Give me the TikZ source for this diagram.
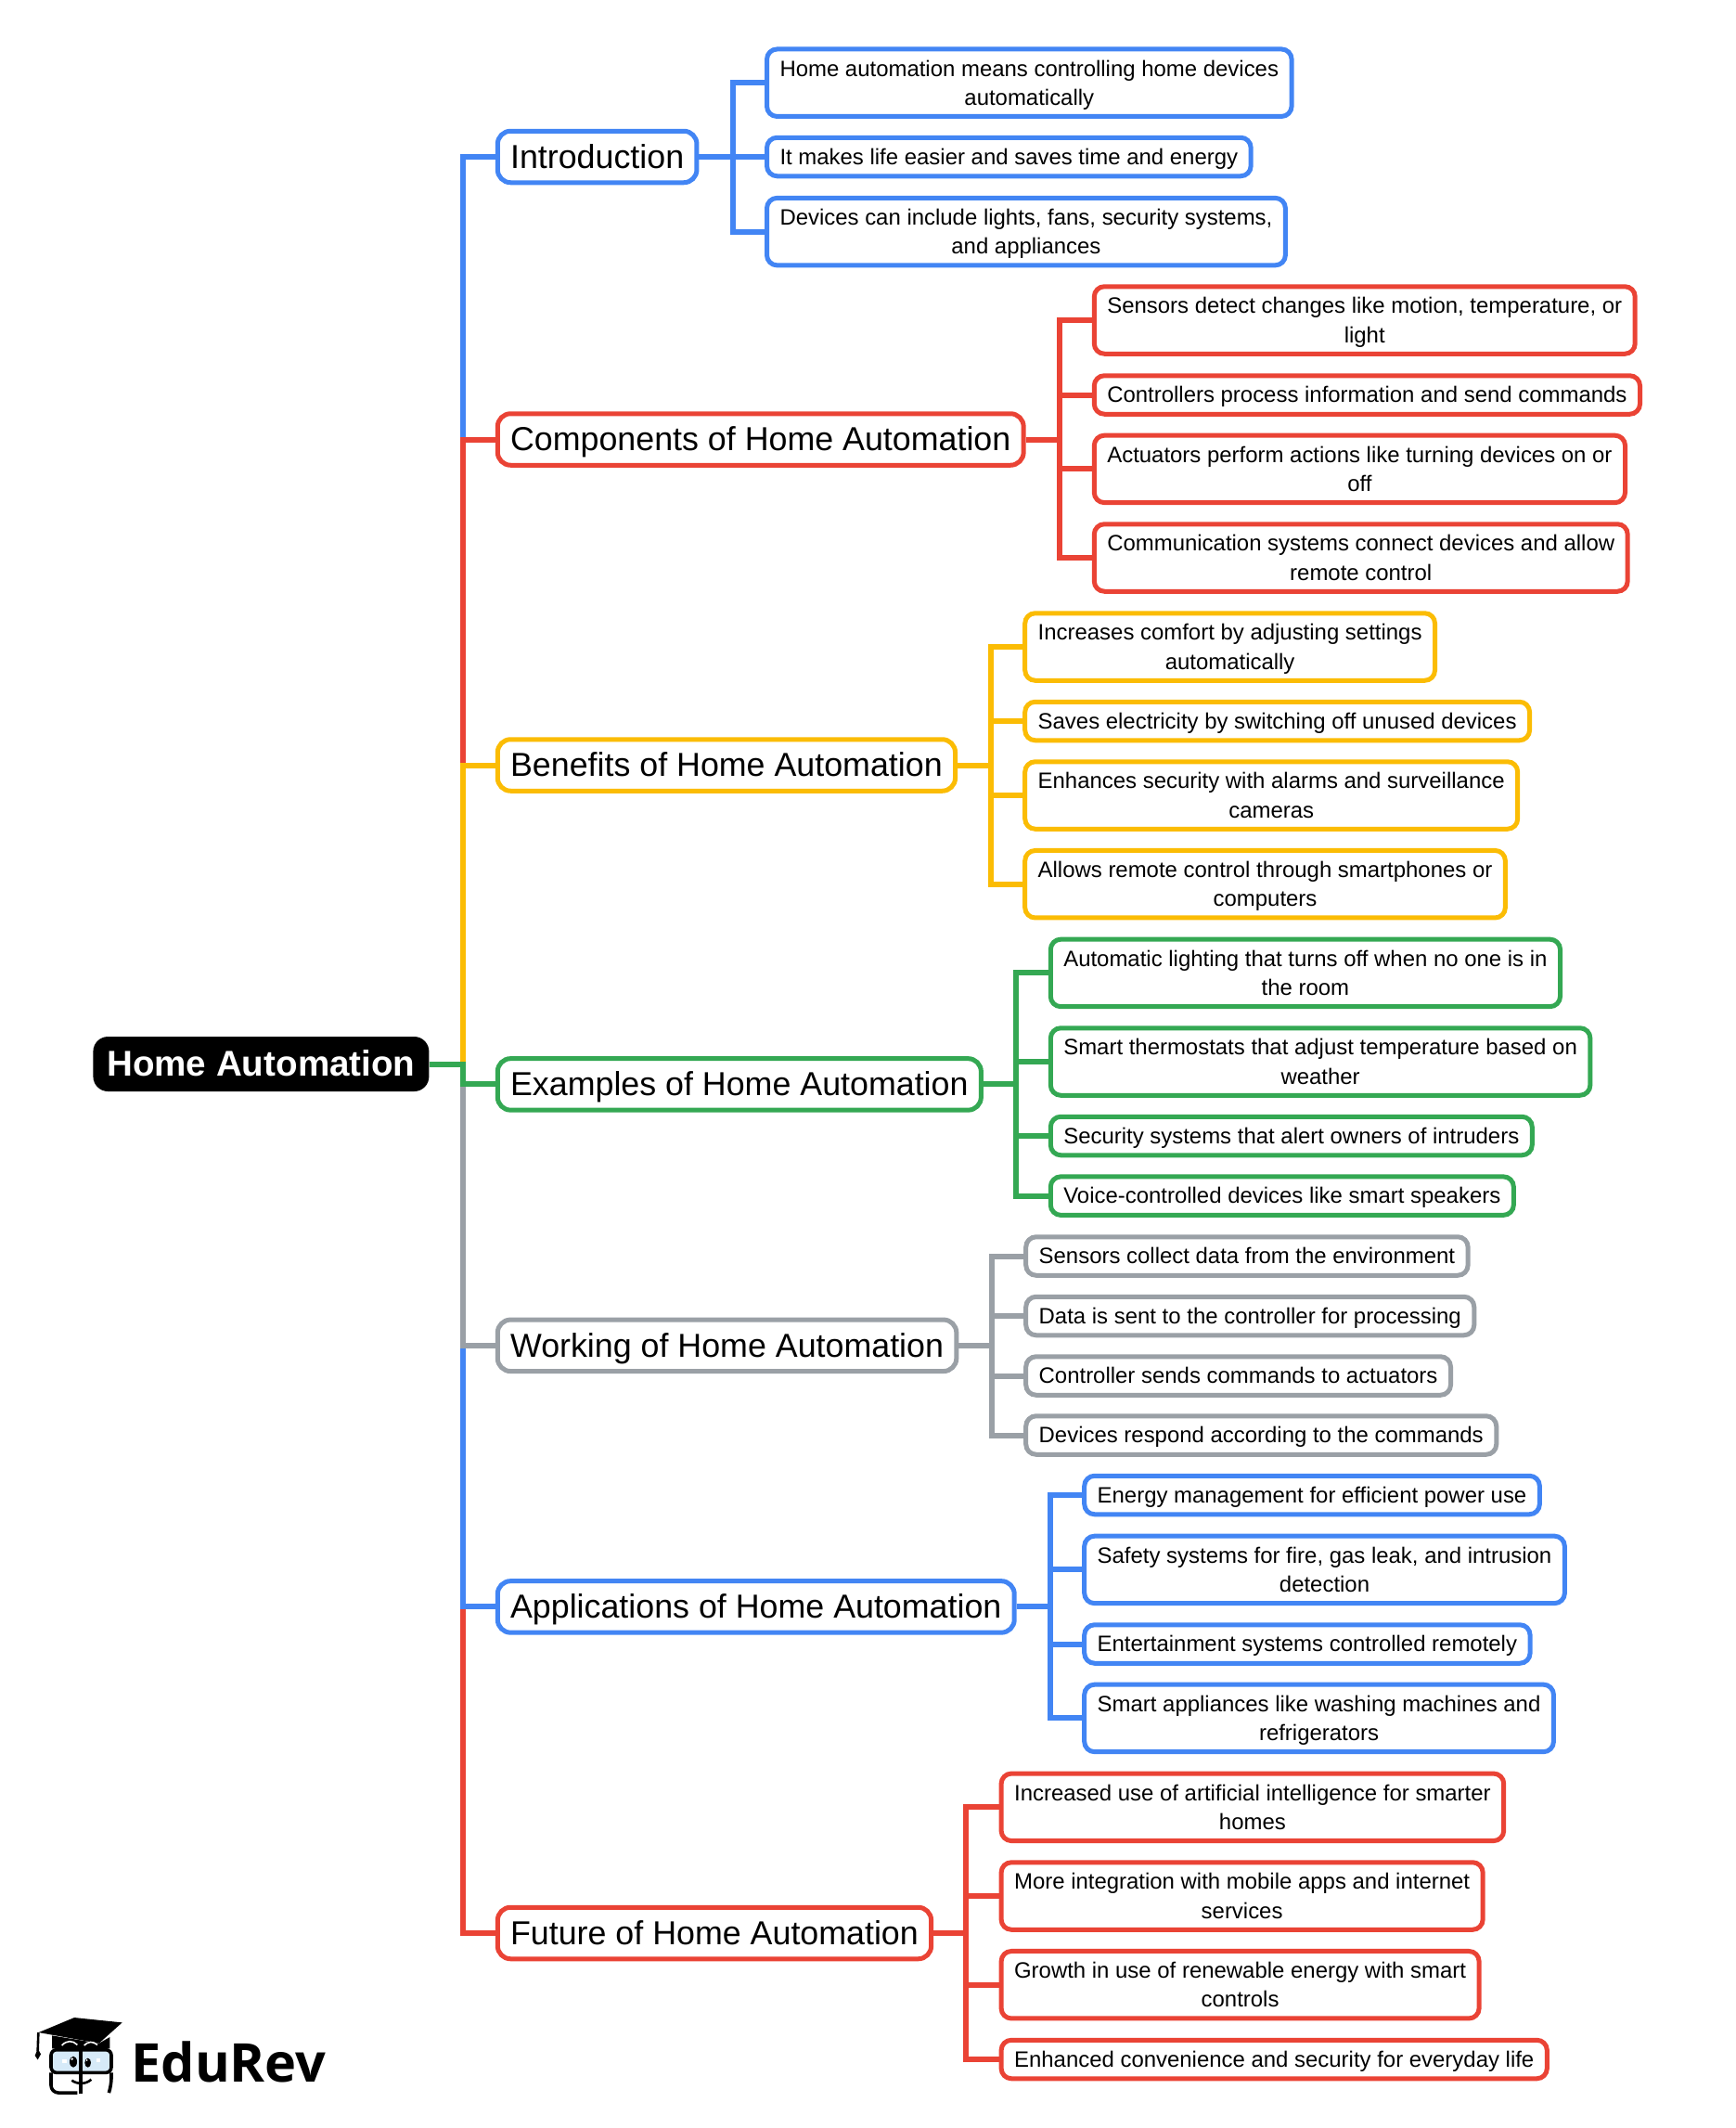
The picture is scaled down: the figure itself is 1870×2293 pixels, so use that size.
\documentclass[tikz,border=0pt]{standalone}
\usepackage{fontspec}
\setmainfont{Liberation Sans}
\newfontfamily\logofont{Open Sans}
\usetikzlibrary{positioning}
\definecolor{gblue}{HTML}{4285F4}
\definecolor{gred}{HTML}{EA4335}
\definecolor{gyellow}{HTML}{FBBC04}
\definecolor{ggreen}{HTML}{34A853}
\definecolor{ggray}{HTML}{9AA0A6}
\definecolor{lens}{HTML}{D6EAF8}
\tikzset{
  wire/.style={line width=3pt},
  root/.style={anchor=west,fill=black,text=white,rounded corners=8pt,inner xsep=7.4pt,inner ysep=0pt,
    minimum height=29.5pt,text height=15pt,text depth=2.5pt,font=\fontsize{19.3}{23}\selectfont\bfseries},
  branch/.style={anchor=west,draw,fill=white,line width=2.5pt,rounded corners=7pt,inner xsep=6.9pt,inner ysep=0pt,
    minimum height=27.75pt,text=black,text height=15pt,text depth=2.6pt,font=\fontsize{17.9}{22}\selectfont},
  leaf/.style={anchor=west,draw,fill=white,line width=2.5pt,rounded corners=5.5pt,inner xsep=7pt,inner ysep=0pt,
    minimum height=20.75pt,align=center,text=black,font=\fontsize{11.97}{15.6}\selectfont,
    execute at begin node={\rule{0pt}{11.3pt}},execute at end node={\rule[-3.1pt]{0pt}{3.1pt}}},
  leaftwo/.style={leaf,minimum height=36.25pt,execute at begin node={\rule{0pt}{27.2pt}}}
}
\begin{document}
\begin{tikzpicture}[x=0.5pt,y=-0.5pt]
  \useasboundingbox(0,0)rectangle(1870,2293);
  \node[root](home)at(100,1146.5){Home Automation};
  \node[branch,draw=gblue](intro)at(533.8,169){Introduction};
  \node[branch,draw=gred](comp)at(533.8,473.5){Components of Home Automation};
  \node[branch,draw=gyellow](bene)at(533.8,824.5){Benefits of Home Automation};
  \node[branch,draw=ggreen](exam)at(533.8,1168.4){Examples of Home Automation};
  \node[branch,draw=ggray](work)at(533.8,1449.8){Working of Home Automation};
  \node[branch,draw=gblue](appl)at(533.8,1731.4){Applications of Home Automation};
  \node[branch,draw=gred](futu)at(533.8,2083){Future of Home Automation};

  \node[leaftwo,draw=gblue](intro1)at(824,89.2){Home automation means controlling home devices\\automatically};
  \node[leaf,draw=gblue](intro2)at(824,169){It makes life easier and saves time and energy};
  \node[leaftwo,draw=gblue](intro3)at(824,249.6){Devices can include lights, fans, security systems,\\and appliances};

  \node[leaftwo,draw=gred](comp1)at(1176.8,345){Sensors detect changes like motion, temperature, or\\light};
  \node[leaf,draw=gred](comp2)at(1176.8,425.5){Controllers process information and send commands};
  \node[leaftwo,draw=gred](comp3)at(1176.8,505.4){Actuators perform actions like turning devices on or\\off};
  \node[leaftwo,draw=gred](comp4)at(1176.8,601){Communication systems connect devices and allow\\remote control};

  \node[leaftwo,draw=gyellow](bene1)at(1102.2,697){Increases comfort by adjusting settings\\automatically};
  \node[leaf,draw=gyellow](bene2)at(1102.2,777){Saves electricity by switching off unused devices};
  \node[leaftwo,draw=gyellow](bene3)at(1102.2,857){Enhances security with alarms and surveillance\\cameras};
  \node[leaftwo,draw=gyellow](bene4)at(1102.2,952.7){Allows remote control through smartphones or\\computers};

  \node[leaftwo,draw=ggreen](exam1)at(1129.8,1048.4){Automatic lighting that turns off when no one is in\\the room};
  \node[leaftwo,draw=ggreen](exam2)at(1129.8,1144){Smart thermostats that adjust temperature based on\\weather};
  \node[leaf,draw=ggreen](exam3)at(1129.8,1224){Security systems that alert owners of intruders};
  \node[leaf,draw=ggreen](exam4)at(1129.8,1288.6){Voice-controlled devices like smart speakers};

  \node[leaf,draw=ggray](work1)at(1103.2,1353.5){Sensors collect data from the environment};
  \node[leaf,draw=ggray](work2)at(1103.2,1418){Data is sent to the controller for processing};
  \node[leaf,draw=ggray](work3)at(1103.2,1482.5){Controller sends commands to actuators};
  \node[leaf,draw=ggray](work4)at(1103.2,1546.5){Devices respond according to the commands};

  \node[leaf,draw=gblue](appl1)at(1166.2,1611){Energy management for efficient power use};
  \node[leaftwo,draw=gblue](appl2)at(1166.2,1691.4){Safety systems for fire, gas leak, and intrusion\\detection};
  \node[leaf,draw=gblue](appl3)at(1166.2,1771.5){Entertainment systems controlled remotely};
  \node[leaftwo,draw=gblue](appl4)at(1166.2,1851.4){Smart appliances like washing machines and\\refrigerators};

  \node[leaftwo,draw=gred](futu1)at(1076.6,1947.3){Increased use of artificial intelligence for smarter\\homes};
  \node[leaftwo,draw=gred](futu2)at(1076.6,2043){More integration with mobile apps and internet\\services};
  \node[leaftwo,draw=gred](futu3)at(1076.6,2138.7){Growth in use of renewable energy with smart\\controls};
  \node[leaf,draw=gred](futu4)at(1076.6,2219){Enhanced convenience and security for everyday life};

  \coordinate(trunk)at(499,1146.5);
  \coordinate(introjoin)at(789.5,169);
  \coordinate(compjoin)at(1141.5,473.5);
  \coordinate(benejoin)at(1067.5,824.5);
  \coordinate(examjoin)at(1095,1168.4);
  \coordinate(workjoin)at(1068.5,1449.8);
  \coordinate(appljoin)at(1131.6,1731.4);
  \coordinate(futujoin)at(1041,2083);

  \draw[wire,gblue](home.east)--(trunk)|-(intro.west);
  \draw[wire,gred](home.east)--(trunk)|-(comp.west);
  \draw[wire,gyellow](home.east)--(trunk)|-(bene.west);
  \draw[wire,gred](home.east)--(trunk)|-(futu.west);
  \draw[wire,gblue](home.east)--(trunk)|-(appl.west);
  \draw[wire,ggray](home.east)--(trunk)|-(work.west);
  \draw[wire,ggreen](home.east)--(trunk)|-(exam.west);

  \draw[wire,gblue](intro.east)--(introjoin)|-(intro1.west);
  \draw[wire,gblue](introjoin)--(intro2.west);
  \draw[wire,gblue](introjoin)|-(intro3.west);

  \draw[wire,gred](comp.east)--(compjoin)|-(comp1.west);
  \draw[wire,gred](compjoin)|-(comp2.west);
  \draw[wire,gred](compjoin)|-(comp3.west);
  \draw[wire,gred](compjoin)|-(comp4.west);

  \draw[wire,gyellow](bene.east)--(benejoin)|-(bene1.west);
  \draw[wire,gyellow](benejoin)|-(bene2.west);
  \draw[wire,gyellow](benejoin)|-(bene3.west);
  \draw[wire,gyellow](benejoin)|-(bene4.west);

  \draw[wire,ggreen](exam.east)--(examjoin)|-(exam1.west);
  \draw[wire,ggreen](examjoin)|-(exam2.west);
  \draw[wire,ggreen](examjoin)|-(exam3.west);
  \draw[wire,ggreen](examjoin)|-(exam4.west);

  \draw[wire,ggray](work.east)--(workjoin)|-(work1.west);
  \draw[wire,ggray](workjoin)|-(work2.west);
  \draw[wire,ggray](workjoin)|-(work3.west);
  \draw[wire,ggray](workjoin)|-(work4.west);

  \draw[wire,gblue](appl.east)--(appljoin)|-(appl1.west);
  \draw[wire,gblue](appljoin)|-(appl2.west);
  \draw[wire,gblue](appljoin)|-(appl3.west);
  \draw[wire,gblue](appljoin)|-(appl4.west);

  \draw[wire,gred](futu.east)--(futujoin)|-(futu1.west);
  \draw[wire,gred](futujoin)|-(futu2.west);
  \draw[wire,gred](futujoin)|-(futu3.west);
  \draw[wire,gred](futujoin)|-(futu4.west);

  \node[anchor=base west,inner sep=0pt,font=\fontsize{28.8}{34}\logofont\bfseries](edurev)at(141,2243){EduRev};
  \begin{scope}[shift={(0,2100)},x=0.1667pt,y=-0.1667pt]
    \fill(125,270)--(240,222)--(395,238)--(320,305)--cycle;
    \fill(168,280)--(168,322)--(355,322)--(355,285)--(320,305)--cycle;
    \draw[line width=1.3pt](124,270)--(122,330);
    \fill(122,322)--(113,345)--(122,358)--(132,340)--cycle;
    \draw[white,line width=0.8pt](200,312)..controls(215,295)and(235,295)..(250,310);
    \draw[white,line width=0.8pt](272,312)..controls(285,298)and(300,298)..(315,310);
    \draw[fill=lens,line width=1.8pt,rounded corners=3pt](165,326)rectangle(360,400);
    \draw[line width=1.8pt,rounded corners=4pt](165,400)--(165,465)--(250,465);
    \draw[line width=1.8pt,rounded corners=4pt](360,400)--(360,440)--(352,465);
    \draw[line width=2pt](262,322)--(262,468);
    \fill(237,365)ellipse[x radius=12,y radius=18];
    \fill(284,368)ellipse[x radius=10,y radius=15];
    \fill[white](233,356)circle(4);
    \fill[white](281,360)circle(3);
    \fill[white](202,356)rectangle(216,368);
    \fill[white](311,354)rectangle(325,366);
    \draw[line width=1.3pt](232,425)..controls(250,438)and(278,438)..(295,422);
  \end{scope}
\end{tikzpicture}
\end{document}
